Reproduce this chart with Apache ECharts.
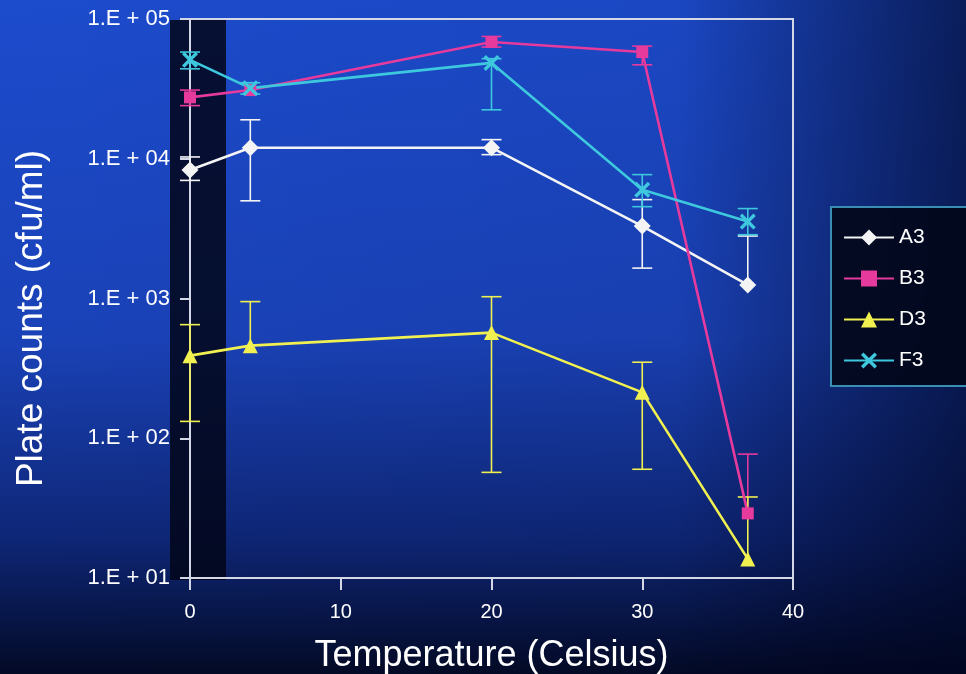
<!DOCTYPE html>
<html><head><meta charset="utf-8">
<script src="https://cdn.jsdelivr.net/npm/echarts@6/dist/echarts.min.js"></script>
<style>html,body{margin:0;padding:0;background:#0a1a55}#c{width:966px;height:674px}</style>
</head><body><div id="c"></div>
<script>
var temps = [0, 4, 20, 30, 37];
var a3 = [8300, 12000, 12000, 3300, 1250];
var a3Lo = [7000, 5000, 10700, 1650, 1250];
var a3Hi = [10300, 19000, 13700, 5100, 2800];
var b3 = [27500, 31000, 68500, 58000, 29];
var b3Lo = [24000, 31000, 63000, 47000, 29];
var b3Hi = [31000, 31000, 75000, 64000, 77];
var d3 = [390, 460, 570, 213, 13.7];
var d3Lo = [132, 460, 57, 60, 13.7];
var d3Hi = [650, 950, 1030, 350, 38];
var f3 = [51000, 32000, 48500, 6000, 3550];
var f3Lo = [44000, 29000, 22400, 4540, 2860];
var f3Hi = [58000, 35000, 52000, 7700, 4400];
var names = ['A3', 'B3', 'D3', 'F3'];

var colors = ['#f4f4f4', '#e63a9c', '#f0f050', '#3ec8de'];
var xPath = 'path://M1.5,0 L5,3.5 L8.5,0 L10,1.5 L6.5,5 L10,8.5 L8.5,10 L5,6.5 L1.5,10 L0,8.5 L3.5,5 L0,1.5 Z';
var symbols = ['diamond', 'rect', 'triangle', xPath];
var sizes = [17, 12, 15, 16];
var vals = [a3, b3, d3, f3], los = [a3Lo, b3Lo, d3Lo, f3Lo], his = [a3Hi, b3Hi, d3Hi, f3Hi];

function pairs(v) { return temps.map(function (t, i) { return [t, v[i]]; }); }
function errData(lo, hi) { return temps.map(function (t, i) { return [t, lo[i], hi[i]]; }); }

var series = [];
names.forEach(function (n, k) {
  series.push({
    name: n, type: 'line', z: 4,
    data: pairs(vals[k]),
    symbol: symbols[k], symbolSize: sizes[k], showSymbol: true,
    lineStyle: { color: colors[k], width: 2.6 },
    itemStyle: { color: colors[k], borderWidth: 0 }
  });
});
names.forEach(function (n, k) {
  series.push({
    name: n + ' error', type: 'custom', z: 3, silent: true,
    itemStyle: { color: colors[k] },
    data: errData(los[k], his[k]),
    encode: { x: 0, y: [1, 2] },
    renderItem: function (params, api) {
      var x = api.value(0), lo = api.value(1), hi = api.value(2);
      var pLo = api.coord([x, lo]), pHi = api.coord([x, hi]);
      var w = 10, ch = [];
      var st = { stroke: colors[k], lineWidth: 1.6 };
      if (Math.abs(pLo[1] - pHi[1]) < 1) return null;
      ch.push({ type: 'line', shape: { x1: pLo[0], y1: pLo[1], x2: pHi[0], y2: pHi[1] }, style: st });
      ch.push({ type: 'line', shape: { x1: pHi[0] - w, y1: pHi[1], x2: pHi[0] + w, y2: pHi[1] }, style: st });
      var pv = api.coord([x, vals[k][params.dataIndex]]);
      if (Math.abs(pLo[1] - pv[1]) > 1) ch.push({ type: 'line', shape: { x1: pLo[0] - w, y1: pLo[1], x2: pLo[0] + w, y2: pLo[1] }, style: st });
      return { type: 'group', children: ch };
    }
  });
});

var chart = echarts.init(document.getElementById('c'));
chart.setOption({
  animation: false,
  backgroundColor: {
    type: 'linear', x: 0, y: 0, x2: 0, y2: 1,
    colorStops: [
      { offset: 0, color: '#1c4bcc' },
      { offset: 0.5, color: '#1a42b8' },
      { offset: 0.8, color: '#0e2676' },
      { offset: 1, color: '#030a26' }
    ]
  },
  graphic: [
    { type: 'rect', z: -10, shape: { x: 0, y: 0, width: 966, height: 674 },
      style: { fill: { type: 'linear', x: 0, y: 0, x2: 1, y2: 0,
        colorStops: [{ offset: 0, color: 'rgba(0,0,20,0)' }, { offset: 0.7, color: 'rgba(0,0,20,0.05)' }, { offset: 1, color: 'rgba(0,5,30,0.65)' }] } } },
    { type: 'rect', z: -5, shape: { x: 170, y: 20, width: 56, height: 560 },
      style: { fill: 'rgba(2,6,24,0.85)' } }
  ],
  textStyle: { fontFamily: 'Liberation Sans, Arial, sans-serif' },
  grid: { left: 190, right: 173, top: 19, bottom: 96, outerBoundsMode: 'none', containLabel: false, show: true, borderColor: '#d4d8e6', borderWidth: 2, backgroundColor: 'transparent' },
  legend: {
    orient: 'vertical', left: 831, top: 207, width: 160,
    padding: [20, 60, 15, 12],
    backgroundColor: 'rgba(2,8,26,0.92)', borderColor: '#3a8eb4', borderWidth: 2,
    itemWidth: 50, itemHeight: 20, itemGap: 20,
    data: names,
    textStyle: { color: '#ffffff', fontSize: 21, fontFamily: 'Liberation Sans, Arial, sans-serif' }
  },
  xAxis: {
    type: 'value', min: 0, max: 40, interval: 10,
    name: 'Temperature (Celsius)', nameLocation: 'middle', nameGap: 60,
    nameTextStyle: { color: '#ffffff', fontSize: 36 },
    axisLine: { lineStyle: { color: '#d4d8e6', width: 2 } },
    axisTick: { show: true, length: 12, lineStyle: { color: '#d4d8e6', width: 2 } },
    axisLabel: { color: '#ffffff', fontSize: 20, margin: 24 },
    splitLine: { show: false }
  },
  yAxis: {
    type: 'log', logBase: 10, min: 10, max: 100000,
    name: 'Plate counts (cfu/ml)', nameLocation: 'middle', nameGap: 140,
    nameTextStyle: { color: '#ffffff', fontSize: 37, padding: [0, 40, 0, 0] },
    axisLine: { lineStyle: { color: '#d4d8e6', width: 2 } },
    axisTick: { show: true, length: 10, lineStyle: { color: '#d4d8e6', width: 2 } },
    axisLabel: { color: '#ffffff', fontSize: 22, margin: 20,
      formatter: function (v) { var e = Math.round(Math.log10(v)); return '1.E + ' + (e < 10 ? '0' : '') + e; } },
    splitLine: { show: false }
  },
  series: series
});
</script></body></html>
